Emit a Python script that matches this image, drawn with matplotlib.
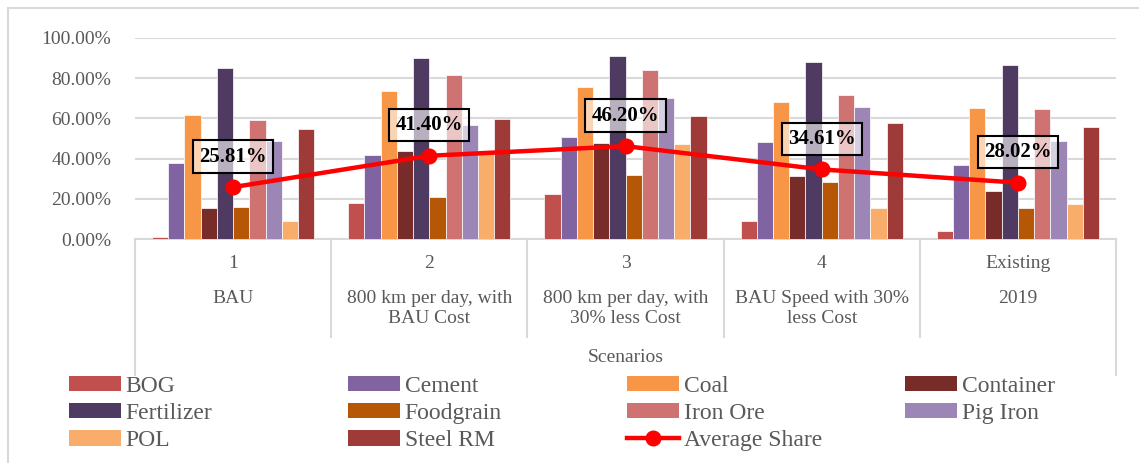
import matplotlib
matplotlib.use("Agg")
import matplotlib.pyplot as plt
import numpy as np
from matplotlib.patches import Rectangle, Patch
from matplotlib.lines import Line2D

plt.rcParams['font.family'] = ['Liberation Serif', 'DejaVu Serif']

# ---- data -------------------------------------------------------------
scenario_ids = ["1", "2", "3", "4", "Existing"]
scenario_names = ["BAU", "800 km per day, with\nBAU Cost",
                  "800 km per day, with\n30% less Cost",
                  "BAU Speed with 30%\nless Cost", "2019"]

commodities = ["BOG", "Cement", "Coal", "Container", "Fertilizer",
               "Foodgrain", "Iron Ore", "Pig Iron", "POL", "Steel RM"]

bog = [0.9, 17.8, 22.2, 8.8, 4.0]
cement = [38.0, 41.9, 50.7, 48.1, 37.0]
coal = [61.5, 73.6, 75.5, 68.0, 65.2]
container = [15.4, 43.9, 47.9, 31.3, 24.0]
fertilizer = [85.1, 90.0, 91.2, 87.9, 86.4]
foodgrain = [16.1, 21.1, 31.8, 28.2, 15.3]
iron_ore = [59.4, 81.4, 83.9, 71.5, 64.8]
pig_iron = [48.8, 56.9, 70.0, 65.7, 48.6]
pol = [9.0, 44.3, 47.3, 15.6, 17.6]
steel_rm = [54.7, 59.7, 61.3, 57.6, 55.9]

average_share = [25.81, 41.40, 46.20, 34.61, 28.02]

series = [bog, cement, coal, container, fertilizer,
          foodgrain, iron_ore, pig_iron, pol, steel_rm]
colors = ["#C0504D", "#8064A2", "#F79646", "#772C2A", "#4F3B62",
          "#B65708", "#CE7371", "#9B86B6", "#F9AD6B", "#9E3A38"]

# ---- figure -----------------------------------------------------------
W, H = 1139, 463
fig = plt.figure(figsize=(W / 100, H / 100), dpi=100)

def fx(px):
    return px / W

def fy(py):
    return 1 - py / H

ax = fig.add_axes([fx(135), fy(239), fx(1116) - fx(135), fy(38) - fy(239)])

grid_c = "#D9D9D9"
text_c = "#595959"

# outer chart frame
fig.patches.append(Rectangle((fx(8), -0.1), 1.2, fy(8) + 0.1,
                             transform=fig.transFigure, fill=False,
                             edgecolor=grid_c, linewidth=1.5, zorder=0))

x = np.arange(len(scenario_ids))
n = len(series)
bw = 0.0826
for i, (vals, col, name) in enumerate(zip(series, colors, commodities)):
    ax.bar(x + (i - (n - 1) / 2) * bw, np.array(vals) / 100, width=bw,
           color=col, edgecolor="white", linewidth=0.5, zorder=2, label=name)

ax.plot(x, np.array(average_share) / 100, color="#FF0000", linewidth=3.2,
        marker="o", markersize=10.5, zorder=4, label="Average Share")

for xi, v in zip(x, average_share):
    ax.annotate(f"{v:.2f}%", (xi, v / 100), xytext=(0, 22),
                textcoords="offset points", ha="center", va="center",
                fontsize=15, fontweight="bold", color="black", zorder=6,
                bbox=dict(boxstyle="square,pad=0.3", facecolor=(1, 1, 1, 0.6),
                          edgecolor="black", linewidth=1.5))

ax.set_xlim(-0.5, len(x) - 0.5)
ax.set_ylim(0, 1.0)
ax.set_yticks(np.arange(0, 1.01, 0.2))
ax.set_yticklabels([f"{t * 100:.2f}%" for t in np.arange(0, 1.01, 0.2)])
ax.tick_params(axis="y", length=0, pad=17, labelsize=14, labelcolor=text_c)
ax.set_xticks([])
ax.grid(axis="y", color=grid_c, linewidth=1.5, zorder=0)
ax.set_axisbelow(True)
for s in ["top", "right", "left"]:
    ax.spines[s].set_visible(False)
ax.spines["bottom"].set_color(grid_c)
ax.spines["bottom"].set_linewidth(1.5)
ax.spines["bottom"].set_zorder(1)

# multi-level category axis
xt = ax.get_xaxis_transform()
px_ax = (239 - 38)  # axes height in px
def ay(px_below):
    return -px_below / px_ax

for b in np.arange(0.5, len(x) - 1, 1.0):
    ax.plot([b, b], [0, ay(98)], transform=xt, color=grid_c, lw=1.5,
            clip_on=False, zorder=1)
for b in [-0.5, len(x) - 0.5]:
    ax.plot([b, b], [0, ay(136)], transform=xt, color=grid_c, lw=1.5,
            clip_on=False, zorder=1)

for xi, sid, sname in zip(x, scenario_ids, scenario_names):
    ax.text(xi, ay(25), sid, transform=xt, ha="center", va="center",
            fontsize=14, color=text_c)
    ax.text(xi, ay(51), sname, transform=xt, ha="center", va="top",
            fontsize=14, color=text_c, linespacing=1.25)

ax.text(2, ay(118), "Scenarios", transform=xt, ha="center", va="center",
        fontsize=14, color=text_c)

# legend laid out in four fixed-width columns
handles = [Patch(facecolor=c, edgecolor="none") for c in colors]
handles.append(Line2D([], [], color="#FF0000", linewidth=3.2, marker="o",
                      markersize=10.5))
labels = commodities + ["Average Share"]
col_x = [69, 348, 627, 905]
for c in range(4):
    hs = handles[c::4]
    ls = labels[c::4]
    fig.legend(hs, ls, loc="upper left",
               bbox_to_anchor=(fx(col_x[c]), fy(376)),
               frameon=False, fontsize=17, handlelength=2.2,
               handleheight=0.62, handletextpad=0.2, labelspacing=0.26,
               borderaxespad=0, borderpad=0, labelcolor=text_c)

fig.savefig("out.png", dpi=100)
